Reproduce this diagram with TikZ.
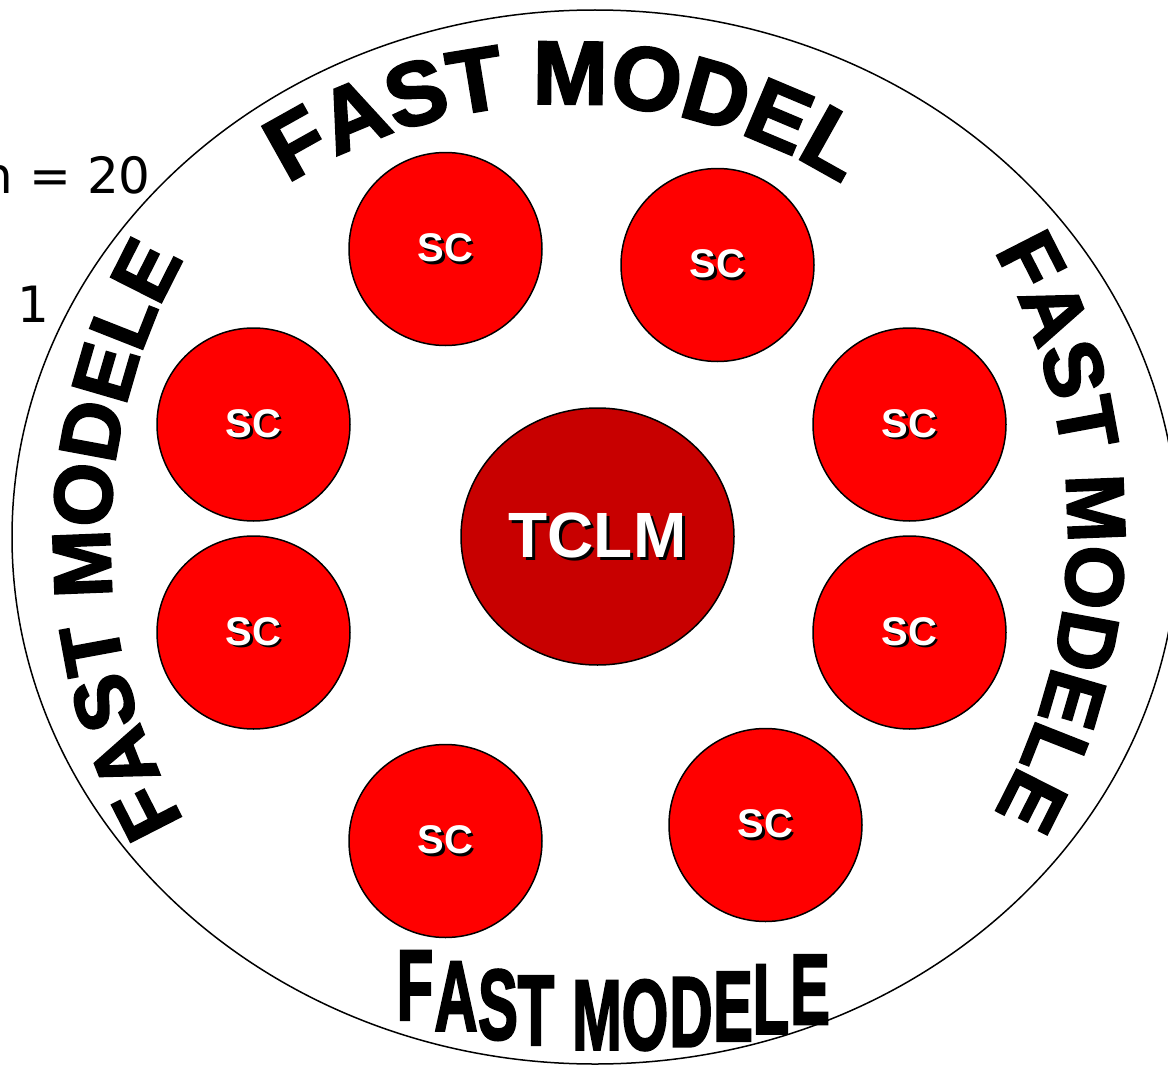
\documentclass[tikz,border=0pt]{standalone}
\usepackage{fontspec}
\usetikzlibrary{decorations.text, shapes.geometric}
\newfontfamily\artfont{Liberation Sans Bold}[FakeBold=2.5]
\newfontfamily\labelfont{Liberation Sans Bold}
\newfontfamily\notefont{DejaVu Sans}
\definecolor{tclmred}{RGB}{200,0,0}
% white label with a black drop shadow
\newcommand{\shadowtext}[2]{\rlap{\kern#1\raisebox{-#1}{\color{black}#2}}#2}

\begin{document}
\begin{tikzpicture}[x=1pt, y=-1pt]
\tikzset{
  scnode/.style={circle, draw=black, line width=1.5pt, fill=red, minimum size=193pt, inner sep=0pt, text=white, font=\labelfont\fontsize{40}{40}\selectfont},
  tclmnode/.style={ellipse, draw=black, line width=1.5pt, fill=tclmred, minimum width=273pt, minimum height=257pt, inner sep=0pt, text=white, font=\labelfont\fontsize{64}{64}\selectfont},
  arttext/.style 2 args={decorate, decoration={text along path, text align=center, text={|\artfont\fontsize{#1}{#1}\selectfont|#2}}},
  botletter/.style={anchor=base, inner sep=0pt, font=\artfont\fontsize{100}{100}\selectfont},
  note/.style={inner sep=0pt, font=\notefont\fontsize{50}{50}\selectfont}
}
\useasboundingbox (0,0) rectangle (1168,1065);

% Outer ellipse
\coordinate (ctr) at (595,537);
\draw[line width=1.5pt] (ctr) ellipse [x radius=583, y radius=527];

% Notes cut by the left border
\node (hnote) [note, anchor=base east] at (151,193) {h = 20};
\node (onenote) [note, anchor=base west] at (17,322) {1};

% Curved titles: baseline arcs (top, left, right)
\pgfmathsetmacro{\rt}{520}
\pgfmathsetmacro{\rs}{570}
\coordinate (topc) at (565,624);
\coordinate (leftc) at (680,540);
\coordinate (rightc) at (498,532);
\path[arttext={90}{FAST MODEL}] (topc) ++({\rt*cos(225)},{\rt*sin(225)}) arc [start angle=225, end angle=315, radius=\rt];
\path[arttext={82}{FAST MODELE}] (leftc) ++({\rs*cos(140)},{\rs*sin(140)}) arc [start angle=140, end angle=220, radius=\rs];
\path[arttext={82}{FAST MODELE}] (rightc) ++({\rs*cos(320)},{\rs*sin(320)}) arc [start angle=320, end angle=400, radius=\rs];

% Bottom title, upright letters on a bent baseline
\foreach \ch/\xx [count=\i] in {F/415, A/456, S/498, T/536, M/597, O/645, D/691, E/733, L/771, E/810}{
  \pgfmathsetmacro{\yb}{1050-7.2*((\xx-620)/100)^2}
  \node (bot\i) [botletter] at (\xx,\yb) {\scalebox{0.6}[1]{\ch}};
}

% Centre model
\node (tclm) [tclmnode] at (597.5,536.5) {\shadowtext{3pt}{TCLM}};

% Ring of SC models
\foreach \xx/\yy [count=\i] in {445.5/249, 717.5/265, 253.5/424.5, 909.5/424.5, 253.5/632.5, 909.5/632.5, 445.5/841, 765.5/825}{
  \node (sc\i) [scnode] at (\xx,\yy) {\shadowtext{2.5pt}{SC}};
}

\end{tikzpicture}
\end{document}
